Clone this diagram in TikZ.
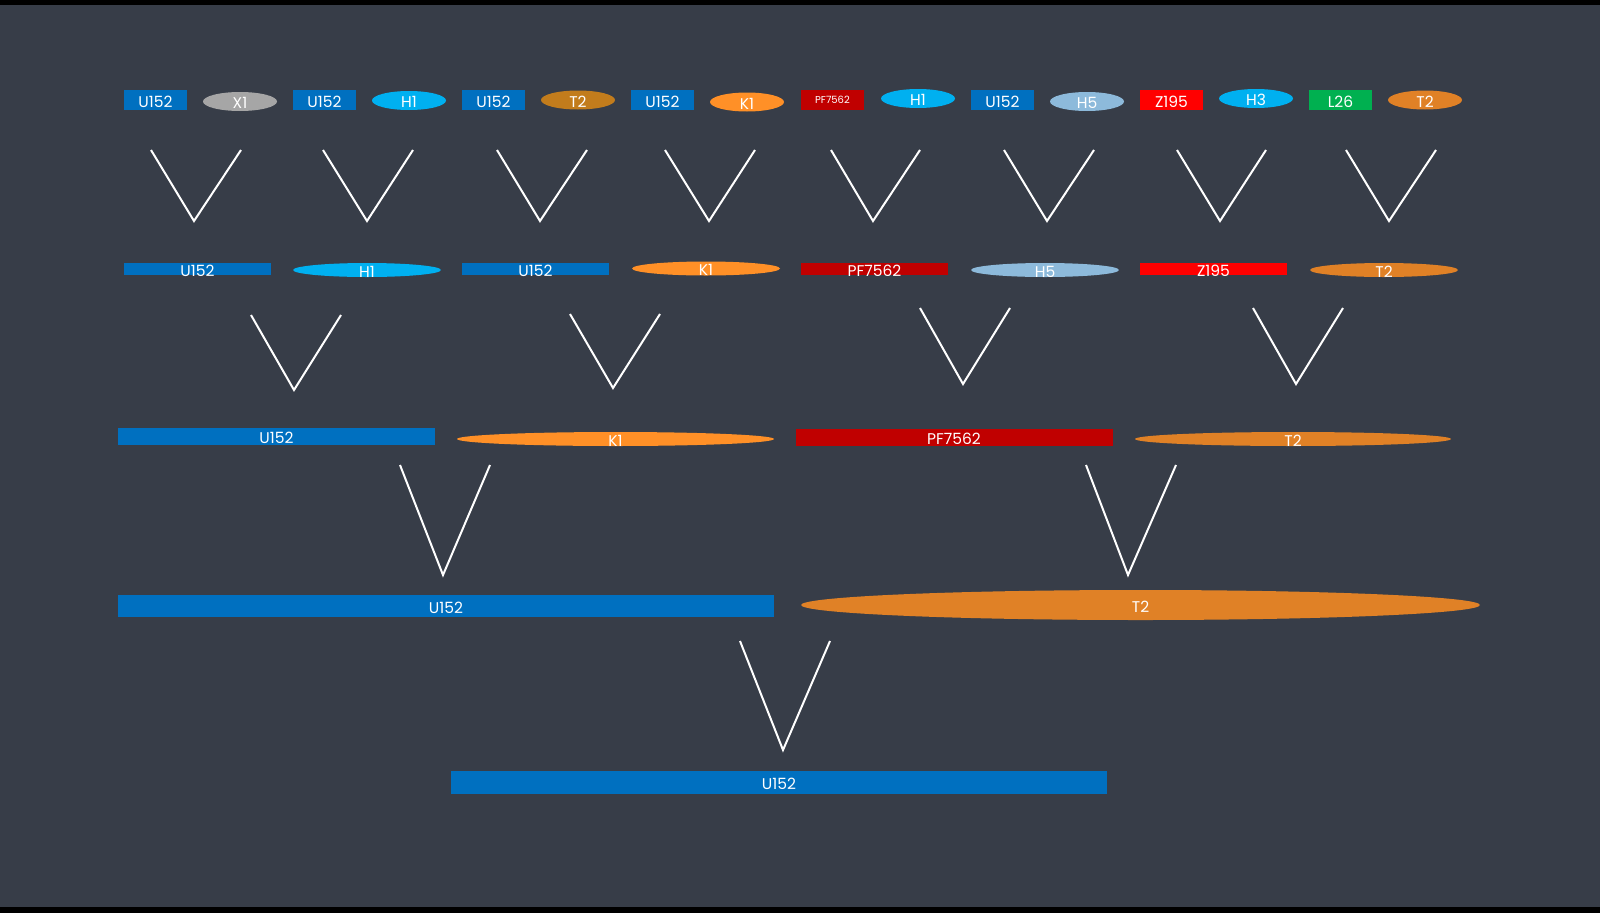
\documentclass[tikz,border=0pt]{standalone}
\usepackage{fontspec}
\setmainfont{Poppins}
\usetikzlibrary{shapes.geometric}
\definecolor{bgc}{HTML}{373D48}
\definecolor{cblue}{HTML}{0070C0}
\definecolor{cgray}{HTML}{A6A6A6}
\definecolor{ccyan}{HTML}{00B0F0}
\definecolor{cgold}{HTML}{C27C1C}
\definecolor{corK}{HTML}{FF9027}
\definecolor{cdred}{HTML}{C00000}
\definecolor{cltb}{HTML}{8DBADB}
\definecolor{cred}{HTML}{FF0000}
\definecolor{cgreen}{HTML}{00B050}
\definecolor{corT}{HTML}{E08126}
\tikzset{
  txt/.style={text=white, inner sep=0pt, yshift=-1.5pt, font=\fontsize{15.5}{16}\selectfont},
  stxt/.style={text=white, inner sep=0pt, font=\fontsize{10}{11}\selectfont},
  rbox/.style={rectangle, draw=none, fill=#1, inner sep=0pt},
  ebox/.style={ellipse, draw=none, fill=#1, inner sep=0pt},
  r1/.style={minimum width=63pt, minimum height=20pt},
  e1/.style={minimum width=74pt, minimum height=19pt},
  r2/.style={minimum width=147pt, minimum height=12pt},
  e2/.style={minimum width=148pt, minimum height=14pt},
  vee/.style={draw=white, line width=2pt},
}
\begin{document}
\begin{tikzpicture}[x=1pt,y=-1pt]
\useasboundingbox (0,0) rectangle (1600,913);
\fill[bgc] (0,0) rectangle (1600,913);
\fill[black] (0,0) rectangle (1600,5);
\fill[black] (0,907) rectangle (1600,913);

% ---- row 1
\node[rbox=cblue, r1, label={[txt]center:U152}] (a1) at (155.5,100) {};
\node[ebox=cgray, e1, label={[txt]center:X1}] (b1) at (240,101.5) {};
\node[rbox=cblue, r1, label={[txt]center:U152}] (a2) at (324.5,100) {};
\node[ebox=ccyan, e1, label={[txt]center:H1}] (b2) at (409,100.5) {};
\node[rbox=cblue, r1, label={[txt]center:U152}] (a3) at (493.5,100) {};
\node[ebox=cgold, e1, label={[txt]center:T2}] (b3) at (578,100) {};
\node[rbox=cblue, r1, label={[txt]center:U152}] (a4) at (662.5,100) {};
\node[ebox=corK, e1, label={[txt]center:K1}] (b4) at (747,102) {};
\node[rbox=cdred, r1, label={[stxt]center:PF7562}] (a5) at (832.5,99.5) {};
\node[ebox=ccyan, e1, label={[txt]center:H1}] (b5) at (918,98.5) {};
\node[rbox=cblue, r1, label={[txt]center:U152}] (a6) at (1002.5,100) {};
\node[ebox=cltb, e1, label={[txt]center:H5}] (b6) at (1087,101.5) {};
\node[rbox=cred, r1, label={[txt]center:Z195}] (a7) at (1171.5,100) {};
\node[ebox=ccyan, e1, label={[txt]center:H3}] (b7) at (1256,98.5) {};
\node[rbox=cgreen, r1, label={[txt]center:L26}] (a8) at (1340.5,100) {};
\node[ebox=corT, e1, label={[txt]center:T2}] (b8) at (1425,100) {};

% ---- V shapes row 1
\draw[vee] (151,150) -- (194,221) -- (241,150);
\draw[vee] (323,150) -- (367,221) -- (413,150);
\draw[vee] (497,150) -- (540,221) -- (587,150);
\draw[vee] (665,150) -- (709,221) -- (755,150);
\draw[vee] (831,150) -- (873,221) -- (920,150);
\draw[vee] (1004,150) -- (1047,221) -- (1094,150);
\draw[vee] (1177,150) -- (1220,221) -- (1266,150);
\draw[vee] (1346,150) -- (1389,221) -- (1436,150);

% ---- row 2
\node[rbox=cblue, r2, label={[txt]center:U152}] (c1) at (197.5,269) {};
\node[ebox=ccyan, e2, label={[txt]center:H1}] (d1) at (367,270) {};
\node[rbox=cblue, r2, label={[txt]center:U152}] (c2) at (535.5,269) {};
\node[ebox=corK, e2, label={[txt]center:K1}] (d2) at (706,268.5) {};
\node[rbox=cdred, r2, label={[txt]center:PF7562}] (c3) at (874.5,269) {};
\node[ebox=cltb, e2, label={[txt]center:H5}] (d3) at (1045,270) {};
\node[rbox=cred, r2, label={[txt]center:Z195}] (c4) at (1213.5,269) {};
\node[ebox=corT, e2, label={[txt]center:T2}] (d4) at (1384,270) {};

% ---- V shapes row 2
\draw[vee] (251,315) -- (294,390) -- (341,315);
\draw[vee] (570,314) -- (613,388) -- (660,314);
\draw[vee] (920,308) -- (963,384) -- (1010,308);
\draw[vee] (1253,308) -- (1296,384) -- (1343,308);

% ---- row 3
\node[rbox=cblue, minimum width=317pt, minimum height=17pt, label={[txt]center:U152}] (e1) at (276.5,436.5) {};
\node[ebox=corK, minimum width=317pt, minimum height=14pt, label={[txt]center:K1}] (f1) at (615.5,439) {};
\node[rbox=cdred, minimum width=317pt, minimum height=17pt, label={[txt]center:PF7562}] (e2) at (954,437.5) {};
\node[ebox=corT, minimum width=316pt, minimum height=14pt, label={[txt]center:T2}] (f2) at (1293,439) {};

% ---- V shapes row 3
\draw[vee] (400,465) -- (443,575) -- (490,465);
\draw[vee] (1086,465) -- (1128,575) -- (1176,465);

% ---- row 4
\node[rbox=cblue, minimum width=656pt, minimum height=22pt, label={[txt]center:U152}] (g1) at (446,606) {};
\node[ebox=corT, minimum width=679pt, minimum height=30pt, label={[txt]center:T2}] (h1) at (1140.5,605) {};

% ---- V shape row 4
\draw[vee] (740,641) -- (783,750) -- (830,641);

% ---- row 5
\node[rbox=cblue, minimum width=656pt, minimum height=23pt, label={[txt]center:U152}] (k1) at (779,782.5) {};
\end{tikzpicture}
\end{document}
